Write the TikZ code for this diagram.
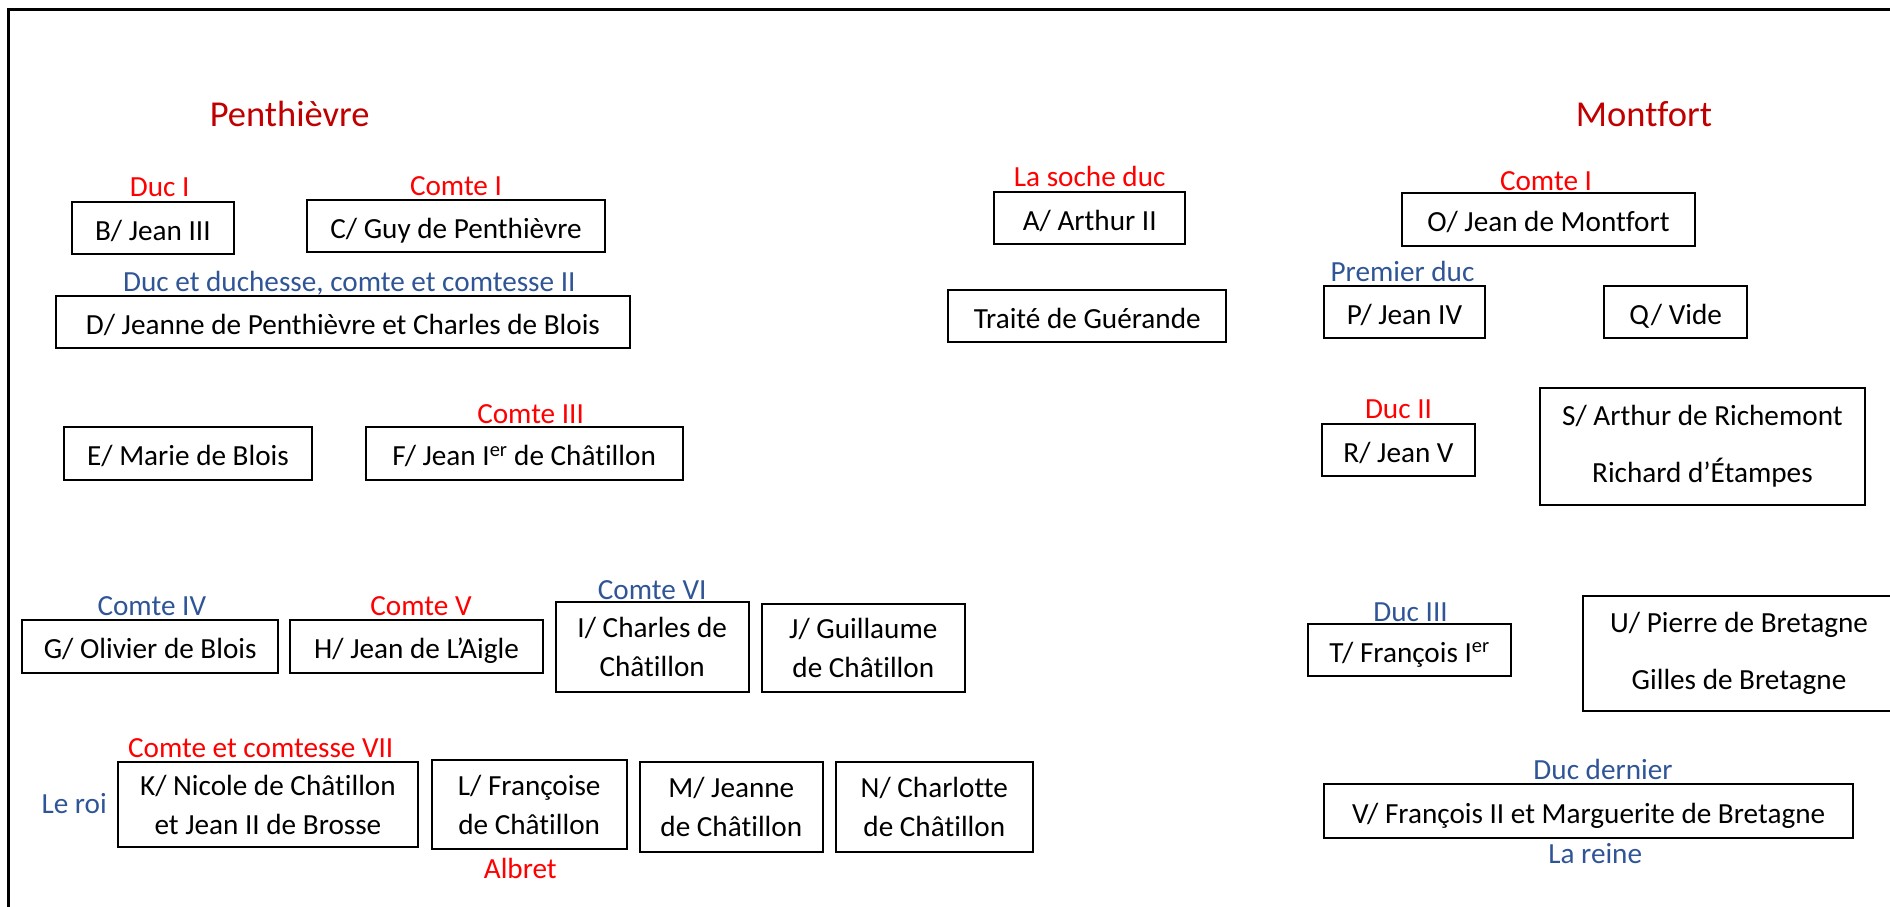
\documentclass[tikz,border=0pt]{standalone}
\usepackage{fontspec}
\setmainfont{Carlito}[Ligatures=NoCommon]
\usepackage{xcolor}
\usetikzlibrary{positioning}

\definecolor{titlered}{HTML}{C00000}
\definecolor{rankred}{HTML}{FF0000}
\definecolor{rankblue}{HTML}{2F5597}

\newcommand{\bodysize}{\fontsize{29.2pt}{39pt}\selectfont}
\newcommand{\titlesize}{\fontsize{36.5pt}{44pt}\selectfont}

\begin{document}
\begin{tikzpicture}[
    x=1pt, y=-1pt,
    person/.style={draw, line width=2pt, inner sep=0pt, align=center, font=\bodysize, minimum height=52.6pt},
    single/.style={person, text height=24pt, text depth=0pt},
    tall/.style={person, minimum height=#1},
    housename/.style={text=titlered, font=\titlesize, inner sep=0pt, anchor=base},
    redlbl/.style={text=rankred, font=\bodysize, inner sep=0pt},
    bluelbl/.style={text=rankblue, font=\bodysize, inner sep=0pt},
    tag/.style={above=#1, anchor=base}
]
\useasboundingbox (0,0) rectangle (1890,906);

% Frame
\draw[line width=3pt] (8.9,920) -- (8.9,9) -- (1900,9);

% Penthievre side
\node (penth) [housename] at (289.7,126.7) {Penthièvre};
\node (b) [single, minimum width=162.8pt] at (152.9,228) {B/ Jean III};
\node (c) [single, minimum width=297.5pt] at (456,226) {C/ Guy de Penthièvre};
\node (d) [single, minimum width=574.8pt] at (342.9,322) {D/ Jeanne de Penthièvre et Charles de Blois};
\node (e) [single, minimum width=248.9pt] at (188,453.7) {E/ Marie de Blois};
\node (f) [single, minimum width=316.8pt] at (524.1,453.7) {F/ Jean I\textsuperscript{er} de Châtillon};
\node (g) [single, minimum width=256.5pt] at (150.2,646.3) {G/ Olivier de Blois};
\node (h) [single, minimum width=252.5pt] at (416.5,646.3) {H/ Jean de L’Aigle};
\node (i) [tall=90.6pt, minimum width=192.8pt] at (652.2,647) {I/ Charles de\\Châtillon};
\node (j) [tall=88.6pt, minimum width=203.1pt] at (863.3,648) {J/ Guillaume\\de Châtillon};
\node (k) [tall=85.6pt, minimum width=299.8pt] at (267.9,804.5) {K/ Nicole de Châtillon\\et Jean II de Brosse};
\node (l) [tall=89pt, minimum width=194.9pt] at (529.2,804.5) {L/ Françoise\\de Châtillon};
\node (m) [tall=90.6pt, minimum width=182.5pt] at (731.3,807) {M/ Jeanne\\de Châtillon};
\node (n) [tall=90.6pt, minimum width=196.6pt] at (934.3,807) {N/ Charlotte\\de Châtillon};

% Middle
\node (a) [single, minimum width=190.6pt] at (1089.7,218) {A/ Arthur II};
\node (guerande) [single, minimum width=277.7pt] at (1087.2,316) {Traité de Guérande};

% Montfort side
\node (montf) [housename] at (1644,126.7) {Montfort};
\node (o) [single, minimum width=292.2pt, minimum height=53pt] at (1548.4,219.8) {O/ Jean de Montfort};
\node (p) [single, minimum width=160.9pt] at (1404.5,312) {P/ Jean IV};
\node (q) [single, minimum width=142.6pt] at (1675.6,312) {Q/ Vide};
\node (r) [single, minimum width=152.7pt] at (1398.5,450) {R/ Jean V};
\node (s) [tall=117pt, minimum width=325pt] at (1702.4,446.2) {S/ Arthur de Richemont\\[17.7pt]Richard d’Étampes};
\node (t) [single, minimum width=203.5pt] at (1409.6,650) {T/ François I\textsuperscript{er}};
\node (u) [tall=114.7pt, minimum width=313pt] at (1739,653.3) {U/ Pierre de Bretagne\\[17.7pt]Gilles de Bretagne};
\node (v) [single, minimum width=528.7pt, minimum height=54pt] at (1588.6,811.3) {V/ François II et Marguerite de Bretagne};

% Titles over the boxes
\node (b-rank) [redlbl, tag=4pt of b, xshift=6.7pt] {Duc I};
\node (c-rank) [redlbl, tag=3.7pt of c] {Comte I};
\node (d-rank) [bluelbl, tag=3pt of d, xshift=6.4pt] {Duc et duchesse, comte et comtesse II};
\node (f-rank) [redlbl, tag=3.4pt of f, xshift=6.5pt] {Comte III};
\node (g-rank) [bluelbl, tag=3.3pt of g, xshift=1.6pt] {Comte IV};
\node (h-rank) [redlbl, tag=3.3pt of h, xshift=4.5pt] {Comte V};
\node (i-rank) [bluelbl, tag=1.4pt of i] {Comte VI};
\node (k-rank) [redlbl, tag=3.4pt of k, xshift=-7.2pt] {Comte et comtesse VII};
\node (roi) [bluelbl, left=10pt of k, anchor=base east, yshift=-8.8pt] {Le roi};
\node (albret) [redlbl, below=28.3pt of l, anchor=base, xshift=-8.9pt] {Albret};
\node (a-rank) [redlbl, tag=4pt of a] {La soche duc};
\node (o-rank) [redlbl, tag=2.3pt of o, xshift=-2.4pt] {Comte I};
\node (p-rank) [bluelbl, tag=3pt of p, xshift=-2pt] {Premier duc};
\node (r-rank) [redlbl, tag=4.4pt of r] {Duc II};
\node (t-rank) [bluelbl, tag=1pt of t, xshift=1pt] {Duc III};
\node (v-rank) [bluelbl, tag=4pt of v, xshift=14.4pt] {Duc dernier};
\node (reine) [bluelbl, below=24pt of v, anchor=base, xshift=6.6pt] {La reine};

\end{tikzpicture}
\end{document}
